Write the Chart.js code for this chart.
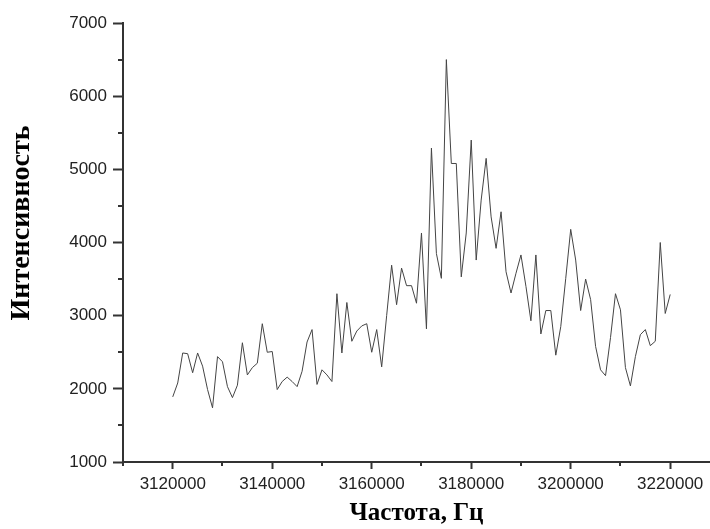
<!DOCTYPE html>
<html>
<head>
<meta charset="utf-8">
<script src="https://cdn.jsdelivr.net/npm/chart.js@4.4.1/dist/chart.umd.min.js"></script>
<style>
  html, body { margin: 0; padding: 0; background: #fff; }
  #wrap { width: 710px; height: 529px; }
</style>
</head>
<body>
<div id="wrap"><canvas id="spec" width="710" height="529"></canvas></div>
<script>
// частота, Гц: от 3120000 с шагом 1000
const freqStart = 3120000;
const freqStep = 1000;
const intensity = [
  1890, 2080, 2490, 2480, 2220, 2490, 2310, 1990, 1740, 2440,
  2370, 2030, 1880, 2050, 2630, 2190, 2290, 2350, 2890, 2500,
  2510, 1990, 2100, 2160, 2100, 2030, 2240, 2640, 2810, 2060,
  2260, 2190, 2100, 3300, 2490, 3180, 2650, 2790, 2860, 2890,
  2500, 2810, 2300, 3000, 3690, 3150, 3650, 3410, 3410, 3170,
  4130, 2820, 5290, 3850, 3510, 6500, 5080, 5080, 3530, 4130,
  5400, 3760, 4580, 5150, 4350, 3920, 4420, 3600, 3310, 3580,
  3830, 3400, 2930, 3830, 2750, 3070, 3070, 2460, 2850, 3510,
  4180, 3760, 3070, 3500, 3220, 2580, 2260, 2180, 2700, 3300,
  3080, 2290, 2040, 2440, 2740, 2810, 2590, 2650, 4000, 3030,
  3290
];
const xTicks = [3120000, 3140000, 3160000, 3180000, 3200000, 3220000];
const xMinor = [3110000, 3130000, 3150000, 3170000, 3190000, 3210000];
const yTicks = [1000, 2000, 3000, 4000, 5000, 6000, 7000];
const yMinor = [1500, 2500, 3500, 4500, 5500, 6500];

const points = intensity.map((v, i) => ({ x: freqStart + i * freqStep, y: v }));

const axisColor = '#333';
const tickFont = { family: 'Liberation Sans, Arial, sans-serif', size: 17 };

// мелкие засечки между основными + подпись оси Y
const minorTicks = {
  id: 'minorTicks',
  afterDraw(chart) {
    const ctx = chart.ctx;
    const xs = chart.scales.x, ys = chart.scales.y;
    ctx.save();
    ctx.strokeStyle = axisColor;
    ctx.lineWidth = 2;
    ctx.beginPath();
    xMinor.forEach(v => {
      const px = Math.round(xs.getPixelForValue(v));
      ctx.moveTo(px, xs.top);
      ctx.lineTo(px, xs.top + 4);
    });
    yMinor.forEach(v => {
      const py = Math.round(ys.getPixelForValue(v));
      ctx.moveTo(ys.right, py);
      ctx.lineTo(ys.right - 5, py);
    });
    ctx.stroke();
    ctx.translate(22, 223);
    ctx.rotate(-Math.PI / 2);
    ctx.fillStyle = '#000';
    ctx.font = 'bold 28px "Liberation Serif", "Times New Roman", serif';
    ctx.textAlign = 'center';
    ctx.textBaseline = 'middle';
    ctx.fillText('Интенсивность', 0, 0);
    ctx.restore();
  }
};

new Chart(document.getElementById('spec').getContext('2d'), {
  type: 'line',
  data: {
    datasets: [{
      data: points,
      borderColor: '#444',
      borderWidth: 1,
      pointRadius: 0,
      tension: 0,
      fill: false
    }]
  },
  options: {
    responsive: false,
    animation: false,
    layout: { padding: { top: 23, right: 0, bottom: 0, left: 0 } },
    plugins: { legend: { display: false }, tooltip: { enabled: false } },
    scales: {
      x: {
        type: 'linear',
        min: 3110000,
        max: 3228000,
        afterBuildTicks: s => { s.ticks = xTicks.map(v => ({ value: v })); },
        afterFit: s => { s.height = 67; },
        grid: { drawOnChartArea: false, drawTicks: true, tickLength: 7, tickColor: axisColor, tickWidth: 2 },
        border: { display: true, color: axisColor, width: 2 },
        ticks: { color: '#222', font: tickFont, padding: 5, maxRotation: 0, callback: v => String(v) },
        title: {
          display: true,
          text: 'Частота, Гц',
          color: '#000',
          font: { family: 'Liberation Serif, Times New Roman, serif', size: 25, weight: 'bold' },
          padding: { top: 0, bottom: 0 }
        }
      },
      y: {
        min: 1000,
        max: 7000,
        afterBuildTicks: s => { s.ticks = yTicks.map(v => ({ value: v })); },
        afterFit: s => { s.width = 123; },
        grid: { drawOnChartArea: false, drawTicks: true, tickLength: 10, tickColor: axisColor, tickWidth: 2 },
        border: { display: true, color: axisColor, width: 2 },
        ticks: { color: '#222', font: tickFont, padding: 6, callback: v => String(v) }
      }
    }
  },
  plugins: [minorTicks]
});
</script>
</body>
</html>
